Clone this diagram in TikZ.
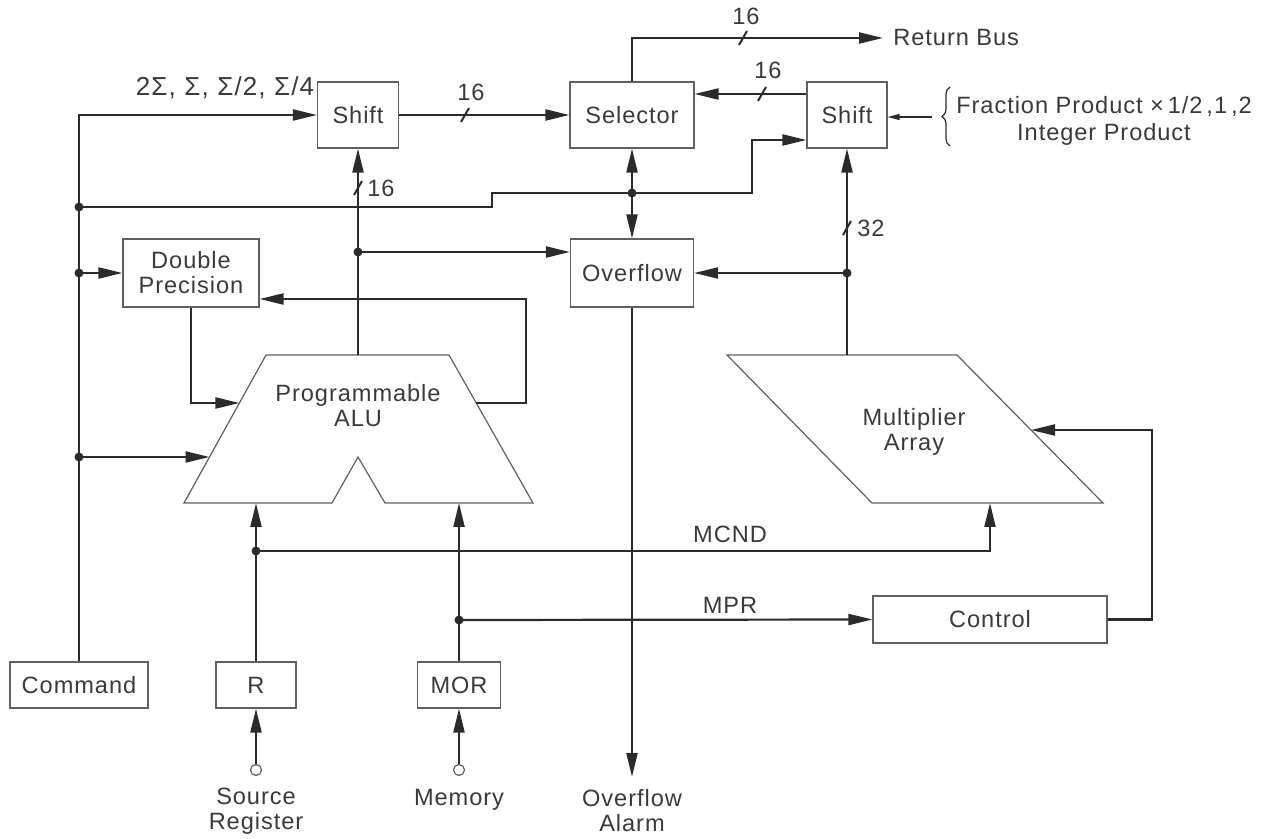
\documentclass[tikz,border=0pt]{standalone}
\usepackage{fontspec}
\setmainfont[LetterSpace=4]{Liberation Sans}
\usetikzlibrary{arrows.meta,decorations.pathreplacing,calc}
\definecolor{linec}{HTML}{2B2B2B}
\definecolor{boxc}{HTML}{606060}
\definecolor{txtc}{HTML}{3A3A3A}
\newcommand\diaglbl{\fontsize{11.8pt}{12.5pt}\selectfont}
\tikzset{
  box/.style={draw=boxc, line width=0.6pt, inner sep=0pt, text=txtc, font=\diaglbl, align=center},
  bus/.style={draw=linec, line width=1.1pt},
  arr/.style={-{Triangle[length=12pt,width=5.5pt]}},
  smallarr/.style={-{Triangle[length=6pt,width=3pt]}},
  jdot/.style={circle, fill=linec, inner sep=0pt, minimum size=4.5pt},
  lab/.style={text=txtc, font=\diaglbl, inner sep=0pt, align=center},
  shapeline/.style={draw=boxc, line width=0.6pt},
  pics/bustick/.style={code={\draw[draw=linec, line width=1pt] (-4,7) -- (4,-7);}}
}
\begin{document}
\begin{tikzpicture}[x=0.5pt, y=-0.5pt]
\useasboundingbox (0,0) rectangle (1270,839);

% boxes
\node[box, minimum width=40.5pt, minimum height=33pt] (sh1) at (358,115) {Shift};
\node[box, minimum width=62pt, minimum height=33pt] (sel) at (632,115) {Selector};
\node[box, minimum width=40pt, minimum height=33pt] (sh2) at (847,115) {Shift};
\node[box, minimum width=68pt, minimum height=34pt] (dp) at (191,273) {Double\\Precision};
\node[box, minimum width=61.5pt, minimum height=34pt] (ovf) at (632,273) {Overflow};
\node[box, minimum width=69pt, minimum height=23pt] (cmd) at (79,685) {Command};
\node[box, minimum width=40pt, minimum height=23pt] (rreg) at (256,685) {R};
\node[box, minimum width=41.5pt, minimum height=23pt] (mor) at (459,685) {MOR};
\node[box, minimum width=117pt, minimum height=23.5pt] (ctl) at (990,619.5) {Control};

% ALU
\draw[shapeline] (266,355) -- (449,355) -- (533,503) -- (385,503) -- (358,457) -- (332,503) -- (184,503) -- cycle;
\node[lab] (alulbl) at (358,406) {Programmable\\ALU};
\coordinate (aluT) at (358,355);
\coordinate (aluL1) at (239.4,403);
\coordinate (aluL2) at (209.5,457);
\coordinate (aluR) at (476.2,403);
\coordinate (aluBL) at (256,503);
\coordinate (aluBR) at (459,503);

% Multiplier array
\draw[shapeline] (727,355) -- (957,355) -- (1103,503) -- (872,503) -- cycle;
\node[lab] (mullbl) at (914,432) {Multiplier\\Array};
\coordinate (mulT) at (847,355);
\coordinate (mulB) at (990,503);
\coordinate (mulR) at (1031,430);

% helper coordinates
\coordinate (c140) at (0,140);
\coordinate (c94) at (0,94);
\coordinate (c299) at (0,299);
\coordinate (retend) at (883,38);
\coordinate (alarm) at (632,777);
\coordinate (fracsrc) at (932,117);

% junction dots
\node[jdot] (j1) at (79,207) {};
\node[jdot] (j2) at (79,273) {};
\node[jdot] (j3) at (79,457) {};
\node[jdot] (j4) at (632,193) {};
\node[jdot] (j5) at (358,252) {};
\node[jdot] (j6) at (847,273) {};
\node[jdot] (j7) at (256,551) {};
\node[jdot] (j8) at (459,620) {};

% command bus
\draw[bus,arr] (cmd.north) |- (sh1.west);
\draw[bus,arr] (j1.center) -- (492,207) -- (492,193) -- (752,193) -- (752,140) -- (sh2.west |- c140);
\draw[bus,arr] (j2.center) -- (dp.west);
\draw[bus,arr] (j3.center) -- (aluL2);
\node[lab, font=\fontsize{13pt}{14pt}\selectfont] (sumlbl) at (225,88) {2Σ,\,\,Σ,\,\,Σ/2,\,\,Σ/4};

% double precision loop
\draw[bus,arr] (dp.south) |- (aluL1);
\draw[bus,arr] (aluR) -- (526,403) -- (526,299) -- (dp.east |- c299);

% ALU output
\draw[bus,arr] (aluT) -- (sh1.south);
\pic at (358,188) {bustick};
\node[lab] (l16a) at (381,188) {16};
\draw[bus,arr] (j5.center) -- (ovf.west |- j5);

% shift1 -> selector
\draw[bus,arr] (sh1.east) -- (sel.west);
\pic at (465,115) {bustick};
\node[lab] (l16b) at (471,92) {16};

% shift2 -> selector
\draw[bus,arr] (sh2.west |- c94) -- (sel.east |- c94);
\pic at (762,94) {bustick};
\node[lab] (l16c) at (768,70) {16};

% return bus
\draw[bus,arr] (sel.north) |- (retend);
\pic at (743,38) {bustick};
\node[lab] (l16d) at (746,16) {16};
\node[lab, anchor=west] (retbus) at (893,38) {Return Bus};

% selector <-> overflow
\draw[bus,arr] (j4.center) -- (sel.south);
\draw[bus,arr] (j4.center) -- (ovf.north);

% overflow alarm
\draw[bus,arr] (ovf.south) -- (alarm);
\node[lab] (alarmlbl) at (632,811) {Overflow\\Alarm};

% multiplier output
\draw[bus,arr] (mulT) -- (sh2.south);
\pic at (847,228) {bustick};
\node[lab] (l32) at (871,228) {32};
\draw[bus,arr] (j6.center) -- (ovf.east |- j6);

% fraction product input
\draw[draw=linec, line width=0.7pt, smallarr] (fracsrc) -- (sh2.east |- fracsrc);
\draw[draw=linec, line width=0.6pt, decorate, decoration={brace, amplitude=4pt}] (950,146) -- (950,87);
\node[lab] (fraclbl) at (1104,121) {Fraction Product ×\,1/2\,,1\,,2\\[1pt]Integer Product};

% R and MOR inputs to ALU
\draw[bus,arr] (rreg.north) -- (aluBL);
\draw[bus,arr] (j7.center) -| (mulB);
\node[lab] (mcnd) at (730,534) {MCND};
\draw[bus,arr] (mor.north) -- (aluBR);
\draw[bus,arr] (j8.center) -- (ctl.west);
\node[lab] (mpr) at (730,605) {MPR};

% control -> multiplier
\draw[bus,arr] (ctl.east) -- (1152,619.5) -- (1152,430) -- (mulR);

% external inputs
\node[circle, draw=boxc, line width=0.6pt, fill=white, minimum size=5.5pt, inner sep=0pt] (srcin) at (256,770) {};
\node[circle, draw=boxc, line width=0.6pt, fill=white, minimum size=5.5pt, inner sep=0pt] (memin) at (459,770) {};
\draw[bus,arr] (srcin) -- (rreg.south);
\draw[bus,arr] (memin) -- (mor.south);
\node[lab] (srclbl) at (256,811) {Source\\Register};
\node[lab] (memlbl) at (459,800) {Memory};
\end{tikzpicture}
\end{document}
